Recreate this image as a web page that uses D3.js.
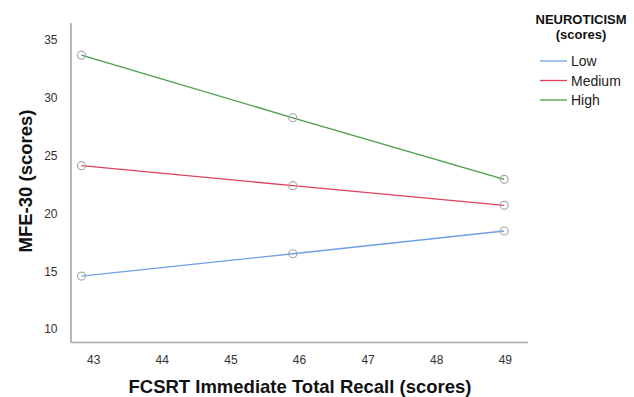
<!DOCTYPE html>
<html><head><meta charset="utf-8">
<script src="https://cdn.jsdelivr.net/npm/d3@7"></script>
<style>body{margin:0;background:#fff;} text{font-family:"Liberation Sans",Arial,sans-serif;}</style>
</head><body>
<svg id="c" width="634" height="397"></svg>
<script>
const xPoints = [42.83, 45.91, 48.99];
const seriesNames = ["Low", "Medium", "High"];
const lowValues = [14.58, 16.51, 18.48];
const mediumValues = [24.13, 22.40, 20.70];
const highValues = [33.68, 28.27, 22.95];
const xTicks = [43, 44, 45, 46, 47, 48, 49];
const yTicks = [10, 15, 20, 25, 30, 35];
const colors = ["#6fa0e6", "#e0415f", "#4a9e45"];

const svg = d3.select("#c");
const x = d3.scaleLinear().domain([42.67, 49.33]).range([70.5, 527.5]);
const y = d3.scaleLinear().domain([8.88, 36.5]).range([342, 22.6]);

const xAxis = svg.append("g").attr("transform","translate(0,342)")
  .call(d3.axisBottom(x).tickValues(xTicks).tickSize(0).tickPadding(13).tickFormat(d3.format("d")));
const yAxis = svg.append("g").attr("transform","translate(70.5,0)")
  .call(d3.axisLeft(y).tickValues(yTicks).tickSize(0).tickPadding(13).tickFormat(d3.format("d")));
[xAxis, yAxis].forEach(a => {
  a.select(".domain").attr("stroke","#a6a6a6").attr("stroke-width",1.6);
  a.selectAll("text").attr("font-size",12).attr("fill","#333").attr("font-family","Liberation Sans, Arial, sans-serif");
});

const all = [lowValues, mediumValues, highValues];
const line = d3.line().x((d,i)=>x(xPoints[i])).y(d=>y(d));
all.forEach((vals, s) => {
  svg.append("path").datum(vals).attr("d", line).attr("fill","none")
    .attr("stroke", colors[s]).attr("stroke-width",1.3);
  svg.selectAll(null).data(vals).enter().append("circle")
    .attr("cx",(d,i)=>x(xPoints[i])).attr("cy",d=>y(d)).attr("r",4)
    .attr("fill","none").attr("stroke","#a8a8a8").attr("stroke-width",1.2);
});

svg.append("text").attr("x",300).attr("y",393).attr("text-anchor","middle")
  .attr("font-size",18.5).attr("font-weight","bold").attr("fill","#111")
  .text("FCSRT Immediate Total Recall (scores)");
svg.append("text").attr("transform","translate(32,181) rotate(-90)").attr("text-anchor","middle")
  .attr("font-size",18.5).attr("font-weight","bold").attr("fill","#111")
  .text("MFE-30 (scores)");

const lg = svg.append("g");
lg.append("text").attr("x",581).attr("y",24).attr("text-anchor","middle")
  .attr("font-size",13).attr("font-weight","bold").attr("fill","#111").text("NEUROTICISM");
lg.append("text").attr("x",581).attr("y",39).attr("text-anchor","middle")
  .attr("font-size",13).attr("font-weight","bold").attr("fill","#111").text("(scores)");
seriesNames.forEach((n,i) => {
  const yy = 61 + i*19.5;
  lg.append("line").attr("x1",540).attr("x2",567).attr("y1",yy).attr("y2",yy)
    .attr("stroke",colors[i]).attr("stroke-width",1.3);
  lg.append("text").attr("x",571).attr("y",yy+5).attr("font-size",14).attr("fill","#222").text(n);
});
</script>
</body></html>
